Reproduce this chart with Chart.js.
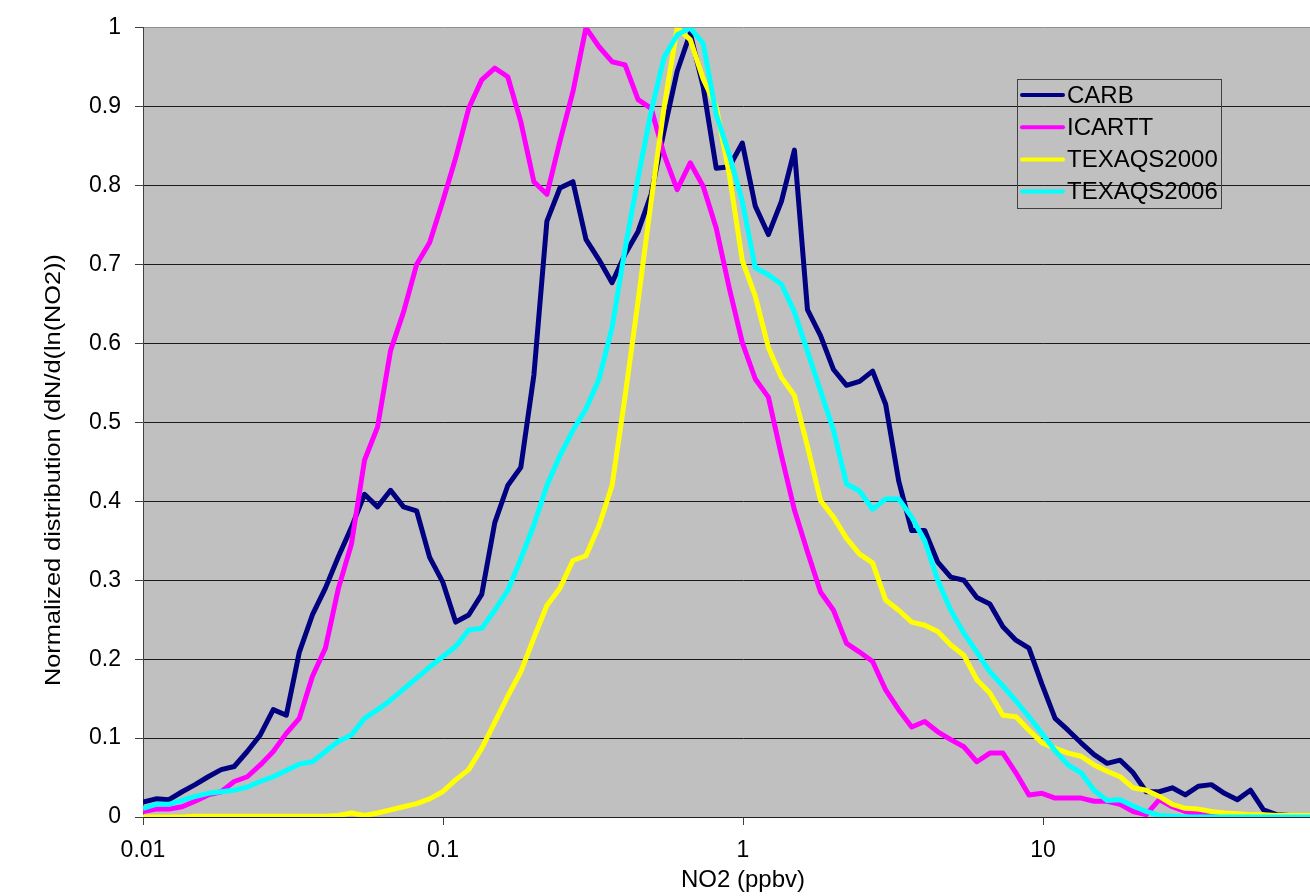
<!DOCTYPE html>
<html>
<head>
<meta charset="utf-8">
<script src="https://cdn.jsdelivr.net/npm/chart.js@4"></script>
<style>
  html, body { margin: 0; padding: 0; overflow: hidden; background: #fff; }
  #wrap { width: 1350px; height: 896px; }
</style>
</head>
<body>
<div id="wrap"><canvas id="no2Chart" width="1350" height="896"></canvas></div>
<script>
// NO2 bins (ppbv), one every 0.1 in ln(NO2)
const xBins = [
  0.01, 0.01105, 0.01221, 0.0135, 0.01492, 0.01649, 0.01822, 0.02014, 0.02226, 0.0246,
  0.02718, 0.03004, 0.0332, 0.03669, 0.04055, 0.04482, 0.04953, 0.05474, 0.0605, 0.06686,
  0.07389, 0.08166, 0.09025, 0.09974, 0.1102, 0.1218, 0.1346, 0.1488, 0.1644, 0.1817,
  0.2009, 0.222, 0.2453, 0.2711, 0.2996, 0.3312, 0.366, 0.4045, 0.447, 0.494,
  0.546, 0.6034, 0.6669, 0.737, 0.8145, 0.9002, 0.9948, 1.099, 1.215, 1.343,
  1.484, 1.64, 1.813, 2.003, 2.214, 2.447, 2.704, 2.989, 3.303, 3.65,
  4.034, 4.459, 4.927, 5.446, 6.018, 6.651, 7.351, 8.124, 8.978, 9.923,
  10.97, 12.12, 13.39, 14.8, 16.36, 18.08, 19.98, 22.08, 24.41, 26.97,
  29.81, 32.94, 36.41, 40.24, 44.47, 49.15, 54.32, 60.03, 66.34, 73.32,
  81.03
];

const carb = [
  0.019, 0.023, 0.022, 0.032, 0.041, 0.051, 0.060, 0.064, 0.083, 0.104,
  0.136, 0.129, 0.209, 0.256, 0.290, 0.330, 0.367, 0.409, 0.393, 0.414,
  0.393, 0.388, 0.329, 0.298, 0.247, 0.256, 0.282, 0.373, 0.420, 0.443,
  0.560, 0.755, 0.797, 0.805, 0.732, 0.706, 0.677, 0.713, 0.742, 0.789,
  0.870, 0.945, 0.993, 0.925, 0.822, 0.824, 0.854, 0.774, 0.738, 0.780,
  0.845, 0.643, 0.610, 0.567, 0.547, 0.552, 0.565, 0.523, 0.426, 0.363,
  0.363, 0.323, 0.304, 0.300, 0.278, 0.270, 0.241, 0.224, 0.214, 0.168,
  0.125, 0.110, 0.094, 0.079, 0.068, 0.072, 0.056, 0.032, 0.032, 0.037,
  0.028, 0.039, 0.041, 0.030, 0.022, 0.034, 0.009, 0.003, 0.002, 0.001,
  0.000
];

const icartt = [
  0.007, 0.010, 0.010, 0.013, 0.020, 0.028, 0.032, 0.045, 0.051, 0.066,
  0.083, 0.106, 0.125, 0.178, 0.214, 0.290, 0.346, 0.452, 0.494, 0.591,
  0.640, 0.700, 0.728, 0.780, 0.835, 0.898, 0.934, 0.949, 0.938, 0.881,
  0.805, 0.789, 0.856, 0.919, 1.000, 0.976, 0.957, 0.953, 0.909, 0.898,
  0.839, 0.795, 0.829, 0.799, 0.746, 0.670, 0.601, 0.555, 0.532, 0.458,
  0.389, 0.336, 0.285, 0.262, 0.220, 0.209, 0.197, 0.161, 0.136, 0.114,
  0.121, 0.108, 0.098, 0.089, 0.070, 0.081, 0.081, 0.056, 0.028, 0.030,
  0.024, 0.024, 0.024, 0.020, 0.020, 0.016, 0.007, 0.003, 0.022, 0.013,
  0.007, 0.004, 0.003, 0.002, 0.001, 0.001, 0.000, 0.000, 0.000, 0.000,
  0.000
];

const texaqs2000 = [
  0.000, 0.000, 0.000, 0.000, 0.001, 0.001, 0.001, 0.001, 0.001, 0.001,
  0.001, 0.001, 0.001, 0.001, 0.001, 0.002, 0.005, 0.002, 0.005, 0.009,
  0.013, 0.017, 0.023, 0.032, 0.047, 0.060, 0.087, 0.120, 0.153, 0.184,
  0.227, 0.268, 0.290, 0.325, 0.331, 0.369, 0.420, 0.533, 0.654, 0.780,
  0.900, 1.000, 0.985, 0.935, 0.900, 0.814, 0.705, 0.660, 0.595, 0.557,
  0.534, 0.470, 0.401, 0.380, 0.353, 0.333, 0.322, 0.275, 0.262, 0.247,
  0.243, 0.235, 0.218, 0.205, 0.174, 0.157, 0.129, 0.127, 0.110, 0.094,
  0.087, 0.081, 0.077, 0.066, 0.058, 0.051, 0.037, 0.034, 0.026, 0.016,
  0.011, 0.010, 0.007, 0.005, 0.004, 0.003, 0.003, 0.002, 0.002, 0.002,
  0.002
];

const texaqs2006 = [
  0.011, 0.016, 0.016, 0.021, 0.026, 0.030, 0.032, 0.034, 0.038, 0.045,
  0.051, 0.059, 0.067, 0.070, 0.083, 0.096, 0.104, 0.125, 0.136, 0.148,
  0.162, 0.176, 0.190, 0.203, 0.216, 0.237, 0.239, 0.262, 0.287, 0.327,
  0.370, 0.420, 0.458, 0.490, 0.517, 0.555, 0.620, 0.720, 0.810, 0.894,
  0.963, 0.991, 1.000, 0.980, 0.890, 0.839, 0.780, 0.696, 0.687, 0.675,
  0.640, 0.590, 0.540, 0.490, 0.422, 0.413, 0.390, 0.403, 0.403, 0.380,
  0.350, 0.300, 0.262, 0.233, 0.209, 0.184, 0.166, 0.147, 0.127, 0.106,
  0.084, 0.066, 0.056, 0.034, 0.021, 0.022, 0.014, 0.007, 0.002, 0.001,
  0.000, 0.000, 0.000, 0.000, 0.000, 0.000, 0.000, 0.000, 0.000, 0.000,
  0.000
];

const seriesNames = ['CARB', 'ICARTT', 'TEXAQS2000', 'TEXAQS2006'];
const seriesColors = ['#000080', '#FF00FF', '#FFFF00', '#00FFFF'];
const xTicks = [0.01, 0.1, 1, 10];
const xTitle = 'NO2 (ppbv)';
const yTitle = 'Normalized distribution (dN/d(ln(NO2))';

const FONT = '"Liberation Sans", Arial, sans-serif';
Chart.defaults.font.family = FONT;
Chart.defaults.color = '#000';

const toPoints = vals => vals.map((v, i) => ({ x: xBins[i], y: v }));

// grey plot area like the spreadsheet default
const plotBackground = {
  id: 'plotBackground',
  beforeDraw(chart) {
    const { ctx, chartArea: a } = chart;
    ctx.save();
    ctx.fillStyle = '#C0C0C0';
    ctx.fillRect(a.left, a.top, a.right - a.left, a.bottom - a.top);
    ctx.restore();
  }
};

// boxed legend inside the plot + rotated y title
const boxLegend = {
  id: 'boxLegend',
  afterDraw(chart) {
    const ctx = chart.ctx;
    ctx.save();
    ctx.strokeStyle = '#404040';
    ctx.lineWidth = 1;
    ctx.strokeRect(1017.5, 79.5, 204, 129);
    ctx.font = '24px ' + FONT;
    ctx.textBaseline = 'middle';
    ctx.textAlign = 'left';
    chart.data.datasets.forEach((ds, i) => {
      const y = 95 + i * 32.2;
      ctx.strokeStyle = ds.borderColor;
      ctx.lineWidth = 4;
      ctx.lineCap = 'round';
      ctx.beginPath();
      ctx.moveTo(1022, y);
      ctx.lineTo(1063, y);
      ctx.stroke();
      ctx.fillStyle = '#000';
      ctx.fillText(ds.label, 1067, y + 1);
    });

    ctx.font = '22px ' + FONT;
    const w = ctx.measureText(yTitle).width;
    ctx.translate(54, 470);
    ctx.rotate(-Math.PI / 2);
    ctx.scale(432 / w, 1);
    ctx.textAlign = 'center';
    ctx.fillText(yTitle, 0, 0);
    ctx.restore();
  }
};

new Chart(document.getElementById('no2Chart').getContext('2d'), {
  type: 'line',
  data: {
    datasets: seriesNames.map((name, i) => ({
      label: name,
      data: toPoints([carb, icartt, texaqs2000, texaqs2006][i]),
      borderColor: seriesColors[i],
      backgroundColor: seriesColors[i],
      borderWidth: 5,
      pointRadius: 0,
      tension: 0,
      borderJoinStyle: 'round',
      fill: false,
      order: seriesNames.length - i
    }))
  },
  options: {
    responsive: false,
    animation: false,
    layout: { padding: { top: 26, right: 7, left: 0, bottom: 0 } },
    plugins: {
      legend: { display: false },
      tooltip: { enabled: false }
    },
    scales: {
      x: {
        type: 'logarithmic',
        min: 0.01,
        max: 100,
        afterBuildTicks: axis => { axis.ticks = xTicks.map(v => ({ value: v })); },
        afterFit: scale => { scale.height = 79; },
        ticks: {
          autoSkip: false,
          maxRotation: 0,
          padding: 12,
          font: { size: 23 },
          color: '#000',
          callback: v => String(v)
        },
        grid: {
          drawOnChartArea: false,
          drawTicks: true,
          tickLength: 8,
          tickColor: '#404040'
        },
        border: { display: true, color: '#202020', width: 1 },
        title: {
          display: true,
          text: xTitle,
          font: { size: 24 },
          color: '#000',
          padding: { top: 0, bottom: 1 }
        }
      },
      y: {
        min: 0,
        max: 1,
        afterFit: scale => { scale.width = 143; },
        ticks: {
          stepSize: 0.1,
          padding: 14,
          font: { size: 23 },
          color: '#000',
          callback: v => String(Number(v.toFixed(1)))
        },
        grid: {
          color: c => (c.tick && c.tick.value === 1 ? '#909090' : '#1a1a1a'),
          lineWidth: 1,
          drawTicks: true,
          tickLength: 8,
          tickColor: '#404040'
        },
        border: { display: true, color: '#404040', width: 1 }
      }
    }
  },
  plugins: [plotBackground, boxLegend]
});
</script>
</body>
</html>
